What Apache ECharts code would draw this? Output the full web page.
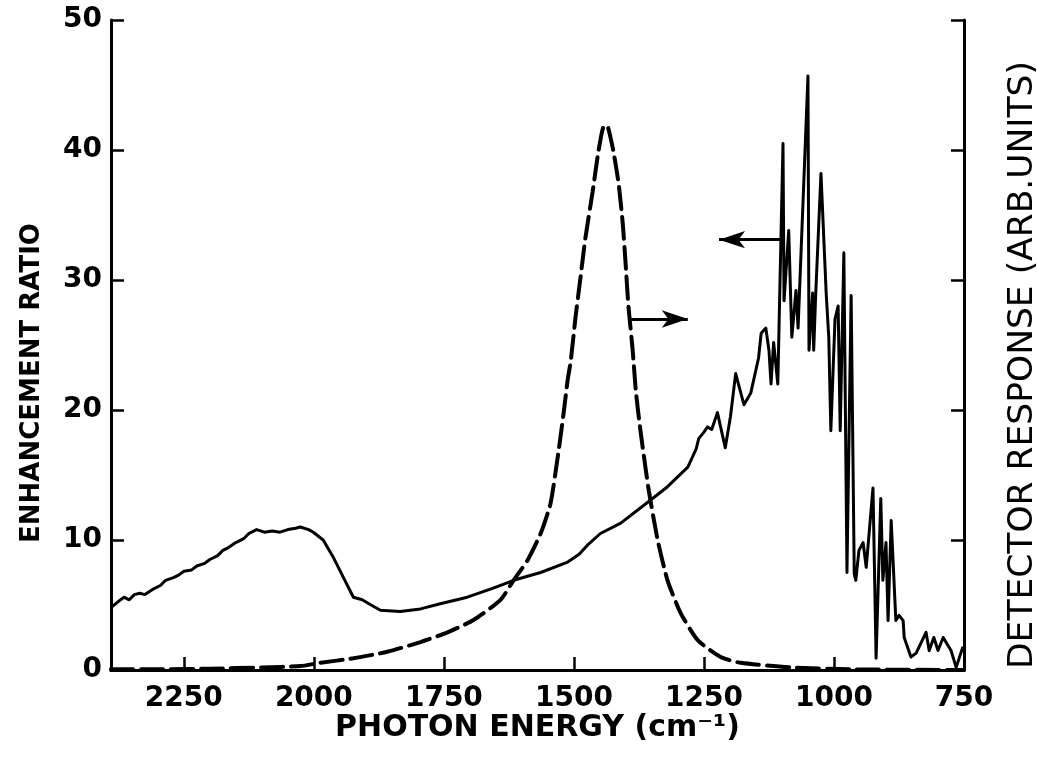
<!DOCTYPE html>
<html>
<head>
<meta charset="utf-8">
<script src="https://cdn.jsdelivr.net/npm/echarts@6/dist/echarts.min.js"></script>
<style>
html,body{margin:0;padding:0;background:#fff;overflow:hidden;}
#chart{width:1037px;height:757px;}
</style>
</head>
<body>
<div id="chart"></div>
<script>
// Enhancement ratio (solid line, left axis): photon energy (cm^-1) and value
var enhX = [2390,2375,2365,2355,2345,2335,2325,2310,2295,2285,2270,2260,2250,2235,2225,2210,2200,2185,2175,2165,2150,2135,2125,2110,2095,2080,2065,2050,2035,2026,2010,2001,1982,1963,1943,1924,1907,1890,1872,1834,1795,1757,1705,1655,1616,1564,1512,1490,1474,1449,1410,1358,1320,1281,1265,1260,1250,1243,1235,1224,1218,1209,1199,1189,1173,1160,1145,1140,1131,1125,1121,1116,1108,1098,1096,1087,1081,1073,1069,1050,1048,1041,1039,1035,1025,1015,1010,1006,998,992,988,981,975,967,961,958,952,944,938,925,919,910,906,900,896,890,881,875,867,865,852,842,823,817,808,800,790,775,765,752];
var enhY = [4.8,5.3,5.6,5.4,5.8,5.9,5.8,6.2,6.5,6.9,7.1,7.3,7.6,7.7,8.0,8.2,8.5,8.8,9.2,9.4,9.8,10.1,10.5,10.8,10.6,10.7,10.6,10.8,10.9,11.0,10.8,10.6,10.0,8.7,7.1,5.6,5.4,5.0,4.6,4.5,4.7,5.1,5.6,6.3,6.9,7.5,8.3,8.9,9.6,10.5,11.3,12.9,14.1,15.6,17.0,17.8,18.3,18.7,18.5,19.8,18.7,17.1,19.5,22.8,20.4,21.3,24.0,25.9,26.3,24.6,22.0,25.2,22.0,40.5,28.4,33.8,25.6,29.2,26.3,45.7,24.6,29.0,24.6,29.0,38.2,29.0,25.6,18.4,27.0,28.0,18.4,32.1,7.5,28.8,7.4,6.9,9.2,9.8,7.9,14.0,0.9,13.2,6.9,9.8,3.8,11.5,3.8,4.2,3.8,2.5,1.0,1.3,2.9,1.5,2.5,1.5,2.5,1.5,0.2,1.8];

// Detector response (dashed line, right axis, arbitrary units)
var detX = [2390,2300,2200,2100,2026,1988,1924,1859,1795,1743,1693,1641,1616,1589,1564,1545,1530,1520,1512,1506,1497,1487,1478,1464,1454,1447,1443,1439,1435,1431,1424,1414,1406,1401,1395,1387,1381,1372,1356,1339,1320,1295,1262,1218,1179,1083,968,752];
var detY = [0.05,0.05,0.1,0.2,0.3,0.55,0.9,1.4,2.15,2.9,3.85,5.4,6.9,8.45,10.5,12.8,16.7,19.7,22.3,23.8,27.1,30.3,33.2,36.8,39.6,41.2,41.8,41.9,41.8,41.2,39.9,37.4,34.3,31.5,27.9,24.6,21.5,18.4,13.8,10.0,6.9,4.4,2.3,1.0,0.55,0.2,0.05,0.0];

// Arrow annotations: [xStart, xEnd, y]
var arrowLeft = [1098, 1221, 33.1];
var arrowRight = [1393, 1281, 27.0];

var xTickLabels = [2250, 2000, 1750, 1500, 1250, 1000, 750];
var yTickLabels = [0, 10, 20, 30, 40, 50];

function pairs(xs, ys) { return xs.map(function (x, i) { return [x, ys[i]]; }); }

var chart = echarts.init(document.getElementById('chart'), null, {renderer: 'canvas'});
var F = 'DejaVu Sans';
var axisLineStyle = {color: '#000', width: 3};
chart.setOption({
  animation: false,
  backgroundColor: '#fff',
  grid: {left: 111, right: 73, top: 20, bottom: 87, containLabel: false, outerBoundsMode: 'none'},
  xAxis: [{
    type: 'value', min: 750, max: 2390, interval: 250, inverse: true, position: 'bottom',
    name: 'PHOTON ENERGY (cm\u207B\u00B9)', nameLocation: 'middle', nameGap: 43, nameMoveOverlap: false,
    nameTextStyle: {fontFamily: F, fontSize: 30, fontWeight: 'bold', color: '#000'},
    axisLine: {show: true, lineStyle: axisLineStyle},
    axisTick: {show: true, inside: true, length: 13, lineStyle: {color: '#000', width: 2.5}},
    axisLabel: {fontFamily: F, fontSize: 28, fontWeight: 'bold', color: '#000', margin: 15,
      formatter: function (v) { return xTickLabels.indexOf(v) >= 0 ? String(v) : ''; }},
    splitLine: {show: false}
  }, {
    type: 'value', min: 750, max: 2390, inverse: true, position: 'top',
    axisLine: {show: true, lineStyle: axisLineStyle},
    axisTick: {show: false}, axisLabel: {show: false}, splitLine: {show: false}
  }],
  yAxis: [{
    type: 'value', min: 0, max: 50, interval: 10, position: 'left',
    name: 'ENHANCEMENT RATIO', nameLocation: 'middle', nameGap: 66, nameRotate: 90, nameMoveOverlap: false,
    nameTextStyle: {fontFamily: F, fontSize: 26, fontWeight: 'bold', color: '#000', padding: [0, 76, 0, 0]},
    axisLine: {show: true, lineStyle: axisLineStyle},
    axisTick: {show: true, inside: true, length: 13, lineStyle: {color: '#000', width: 2.5}},
    axisLabel: {fontFamily: F, fontSize: 28, fontWeight: 'bold', color: '#000', margin: 9,
      formatter: function (v) { return yTickLabels.indexOf(v) >= 0 ? String(v) : ''; }},
    splitLine: {show: false}
  }, {
    type: 'value', min: 0, max: 50, interval: 10, position: 'right',
    name: 'DETECTOR RESPONSE (ARB.UNITS)', nameLocation: 'middle', nameGap: 42, nameRotate: 90, nameMoveOverlap: false,
    nameTextStyle: {fontFamily: F, fontSize: 34.5, color: '#000', padding: [0, 40, 0, 0]},
    axisLine: {show: true, lineStyle: axisLineStyle},
    axisTick: {show: true, inside: true, length: 13, lineStyle: {color: '#000', width: 2.5}},
    axisLabel: {show: false}, splitLine: {show: false}
  }],
  series: [{
    type: 'line', name: 'Enhancement ratio', xAxisIndex: 0, yAxisIndex: 0,
    data: pairs(enhX, enhY), showSymbol: false, symbol: 'none', smooth: false,
    lineStyle: {color: '#000', width: 3, join: 'round'},
    markLine: {
      silent: true, symbol: ['none', 'arrow'], symbolSize: [13, 26],
      label: {show: false},
      lineStyle: {color: '#000', width: 3, type: 'solid'},
      data: [
        [{coord: [arrowLeft[0], arrowLeft[2]]}, {coord: [arrowLeft[1], arrowLeft[2]]}],
        [{coord: [arrowRight[0], arrowRight[2]]}, {coord: [arrowRight[1], arrowRight[2]]}]
      ]
    }
  }, {
    type: 'line', name: 'Detector response', xAxisIndex: 0, yAxisIndex: 1,
    data: pairs(detX, detY), showSymbol: false, symbol: 'none', smooth: 0.2,
    lineStyle: {color: '#000', width: 4, type: [22, 8], cap: 'round'}
  }]
});
</script>
</body>
</html>
